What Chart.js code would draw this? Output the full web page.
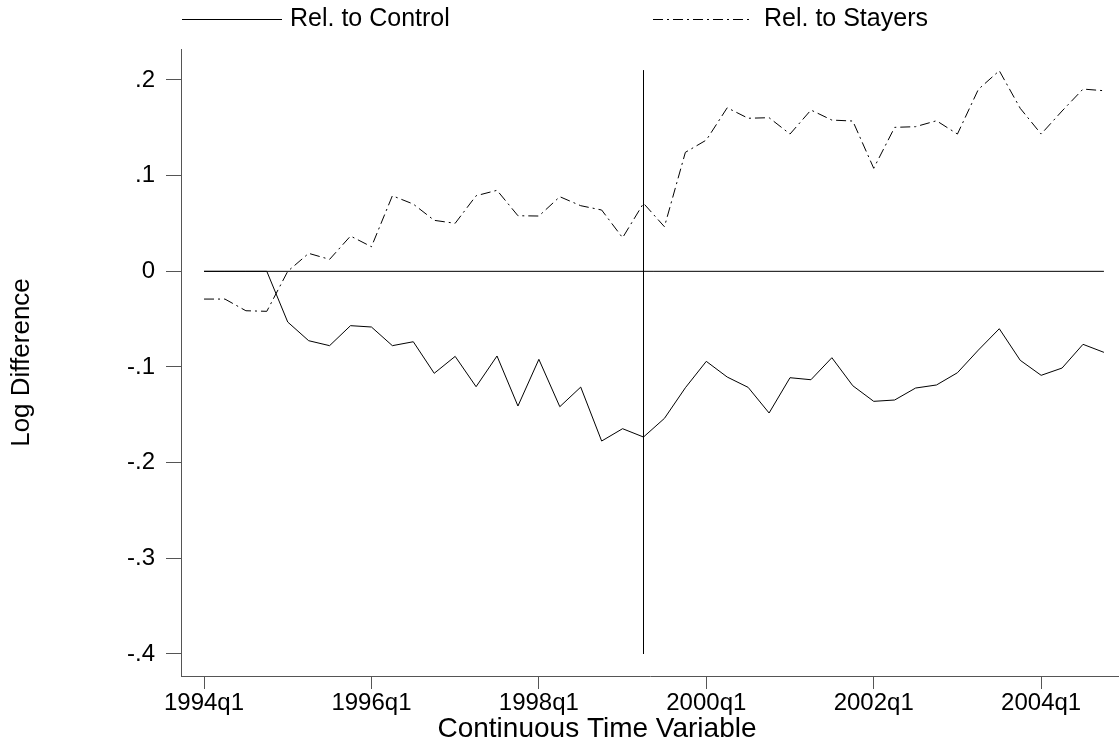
<!DOCTYPE html>
<html>
<head>
<meta charset="utf-8">
<script src="https://cdn.jsdelivr.net/npm/chart.js@4/dist/chart.umd.min.js"></script>
<style>
  html, body { margin: 0; padding: 0; background: #fff; }
  #wrap { width: 1119px; height: 746px; }
</style>
</head>
<body>
<div id="wrap"><canvas id="chart"></canvas></div>
<script>
// quarters counted from 1994q1 (0) to 2004q4 (43)
var relControl = [0, 0, 0, 0, -0.053, -0.0725, -0.0777, -0.0568, -0.0582, -0.0777,
    -0.0736, -0.1066, -0.0889, -0.1206, -0.0885, -0.1408, -0.092, -0.1415, -0.121, -0.1774,
    -0.1645, -0.1732, -0.1537, -0.1217, -0.0941, -0.1105, -0.1213, -0.1481, -0.1112, -0.1133,
    -0.0903, -0.1196, -0.1359, -0.1345, -0.122, -0.1188, -0.106, -0.0823, -0.06, -0.093,
    -0.1087, -0.1011, -0.0763, -0.0847];
var relStayers = [-0.029, -0.029, -0.0412, -0.0418, 0.0, 0.0188, 0.0125, 0.0369, 0.0257, 0.079,
    0.0703, 0.0533, 0.0502, 0.079, 0.0847, 0.0581, 0.0578, 0.078, 0.0686, 0.0641,
    0.0351, 0.0711, 0.0466, 0.1244, 0.1372, 0.171, 0.16, 0.1606, 0.1435, 0.1686,
    0.1581, 0.1571, 0.1077, 0.1505, 0.1512, 0.1574, 0.1435, 0.1902, 0.2097, 0.1704,
    0.1435, 0.1676, 0.1905, 0.1888];

var xTickValues = [0, 8, 16, 24, 32, 40];
var xTickLabels = ['1994q1', '1996q1', '1998q1', '2000q1', '2002q1', '2004q1'];
var yTickValues = [-0.4, -0.3, -0.2, -0.1, 0, 0.1, 0.2];
var yTickLabels = ['-.4', '-.3', '-.2', '-.1', '0', '.1', '.2'];

// reference lines: zero line and the 1999q2 marker
var zeroLineX = [0, 43];
var markerX = 21;
var markerY = [0.21, -0.4];

var xTitle = 'Continuous Time Variable';
var FONT = '"Liberation Sans", Arial, sans-serif';

function toPoints(vals)
{
    return vals.map(function(v, i) { return { x: i, y: v }; });
}

// legend in two fixed slots and the x title, placed like the original
var legendPlugin = {
    id: 'slotLegend',
    afterDraw: function(chart)
    {
        var ctx = chart.ctx;
        var slots = [
            { x0: 182, x1: 282, tx: 290, ds: chart.data.datasets[0] },
            { x0: 653, x1: 750, tx: 764, ds: chart.data.datasets[1] }
        ];
        var y = 19;
        ctx.save();
        slots.forEach(function(s) {
            ctx.beginPath();
            ctx.setLineDash(s.ds.borderDash || []);
            ctx.strokeStyle = s.ds.borderColor;
            ctx.lineWidth = 1;
            ctx.moveTo(s.x0, y + 0.5);
            ctx.lineTo(s.x1, y + 0.5);
            ctx.stroke();
            ctx.setLineDash([]);
            ctx.fillStyle = '#000';
            ctx.font = '25px ' + FONT;
            ctx.textAlign = 'left';
            ctx.textBaseline = 'middle';
            ctx.fillText(s.ds.label, s.tx, y);
        });
        ctx.font = '28px ' + FONT;
        ctx.textAlign = 'center';
        ctx.textBaseline = 'middle';
        ctx.fillText(xTitle, 597, 729);
        ctx.restore();
    }
};

var ctx = document.getElementById('chart').getContext('2d');
var mychart = new Chart(ctx, {
    type: 'line',
    data: {
        datasets: [
            { label: 'Rel. to Control', data: toPoints(relControl),
              borderColor: '#000', borderWidth: 1, pointRadius: 0, tension: 0 },
            { label: 'Rel. to Stayers', data: toPoints(relStayers),
              borderColor: '#000', borderWidth: 1, borderDash: [10, 4, 2, 4], pointRadius: 0, tension: 0 },
            { label: 'zero', data: zeroLineX.map(function(x) { return { x: x, y: 0 }; }),
              borderColor: '#000', borderWidth: 1, pointRadius: 0 },
            { label: 'marker', data: markerY.map(function(y) { return { x: markerX, y: y }; }),
              borderColor: '#000', borderWidth: 1, pointRadius: 0 }
        ]
    },
    options: {
        responsive: true,
        maintainAspectRatio: false,
        animation: false,
        layout: { padding: { top: 49, left: 0, right: 0, bottom: 0 } },
        plugins: { legend: { display: false }, tooltip: { enabled: false } },
        scales: {
            x: {
                type: 'linear',
                min: -1.1,
                max: 43.72,
                afterBuildTicks: function(scale) {
                    scale.ticks = xTickValues.map(function(v) { return { value: v }; });
                },
                afterFit: function(scale) { scale.height = 70; },
                grid: { drawOnChartArea: false, drawTicks: true, tickLength: 13, color: '#555' },
                border: { display: true, color: '#555', width: 1 },
                ticks: {
                    autoSkip: false, maxRotation: 0, padding: 0, color: '#000',
                    font: { family: FONT, size: 24 },
                    callback: function(v) { return xTickLabels[xTickValues.indexOf(v)]; }
                }
            },
            y: {
                min: -0.423,
                max: 0.2324,
                afterBuildTicks: function(scale) {
                    scale.ticks = yTickValues.map(function(v) { return { value: v }; });
                },
                afterFit: function(scale) { scale.width = 181; },
                grid: { drawOnChartArea: false, drawTicks: true, tickLength: 15, color: '#555' },
                border: { display: true, color: '#555', width: 1 },
                ticks: {
                    padding: 11, color: '#000',
                    font: { family: FONT, size: 24 },
                    callback: function(v) { return yTickLabels[yTickValues.indexOf(v)]; }
                },
                title: {
                    display: true, text: 'Log Difference', color: '#000',
                    font: { family: FONT, size: 26 }, padding: { top: 6, bottom: 0 }
                }
            }
        }
    },
    plugins: [legendPlugin]
});
</script>
</body>
</html>
